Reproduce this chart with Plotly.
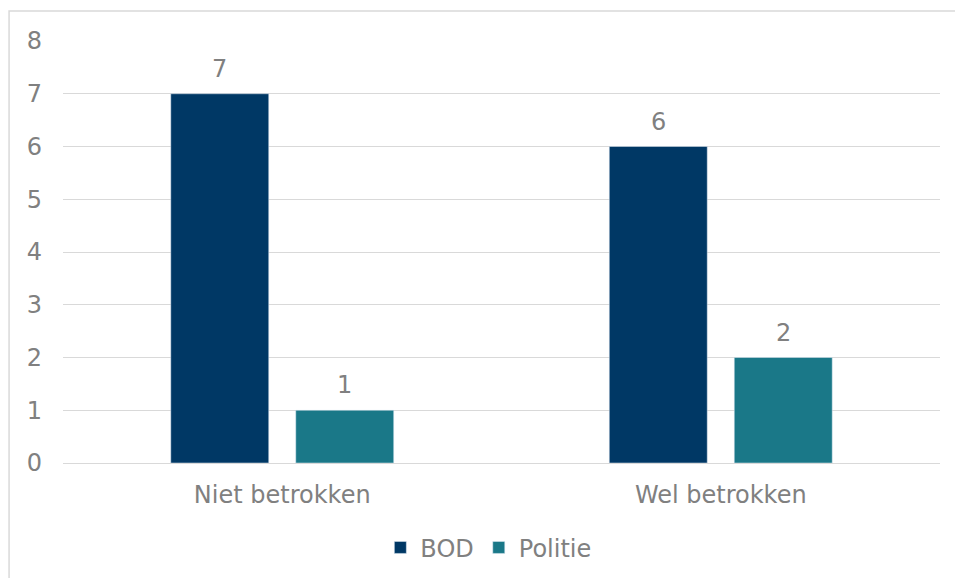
import plotly.graph_objects as go

categories = ["Niet betrokken", "Wel betrokken"]
series_names = ["BOD", "Politie"]
bod_values = [7, 6]
politie_values = [1, 2]

font_family = "DejaVu Sans, Verdana, sans-serif"
gray = "#808080"
fsize = 24
bargap = 0.43
bargroupgap = 0.216

fig = go.Figure()
fig.add_trace(go.Bar(name=series_names[0], x=categories, y=bod_values, marker_color="#003865"))
fig.add_trace(go.Bar(name=series_names[1], x=categories, y=politie_values, marker_color="#1a7888"))

# value labels above the bars
annotations = []
slot = (1 - bargap) / 2
for j, vals in enumerate([bod_values, politie_values]):
    for i, v in enumerate(vals):
        annotations.append(dict(x=i + (j - 0.5) * slot, y=v, xref="x", yref="y",
                                text=str(v), showarrow=False, yanchor="middle", yshift=25,
                                font=dict(size=fsize, color=gray, family=font_family)))

fig.update_layout(
    width=955, height=578,
    margin=dict(l=63, r=15, t=41, b=115, autoexpand=False),
    paper_bgcolor="white", plot_bgcolor="white",
    barmode="group", bargap=bargap, bargroupgap=bargroupgap,
    font=dict(family=font_family, color=gray, size=fsize),
    showlegend=True,
    legend=dict(orientation="h", x=0.485, xanchor="center", y=-0.201, yanchor="middle",
                font=dict(size=fsize, color=gray), traceorder="normal"),
    xaxis=dict(showgrid=False, showline=False, ticks="", ticklabelstandoff=15,
               tickfont=dict(size=fsize, color=gray)),
    yaxis=dict(range=[0, 8], dtick=1, showgrid=True, gridcolor="#d9d9d9", gridwidth=1,
               zeroline=True, zerolinecolor="#d9d9d9", zerolinewidth=1,
               showline=False, ticks="", ticklabelstandoff=20,
               tickfont=dict(size=fsize, color=gray)),
    annotations=annotations,
    shapes=[dict(type="rect", xref="paper", yref="paper",
                 x0=-0.0615, x1=1.1, y0=-0.4, y1=1.071,
                 line=dict(color="#d9d9d9", width=1.5), fillcolor="rgba(0,0,0,0)", layer="below")],
)

fig.write_html("out.html", config={"displayModeBar": False},
               post_script="document.body.style.margin='0';document.body.style.overflow='hidden';")
